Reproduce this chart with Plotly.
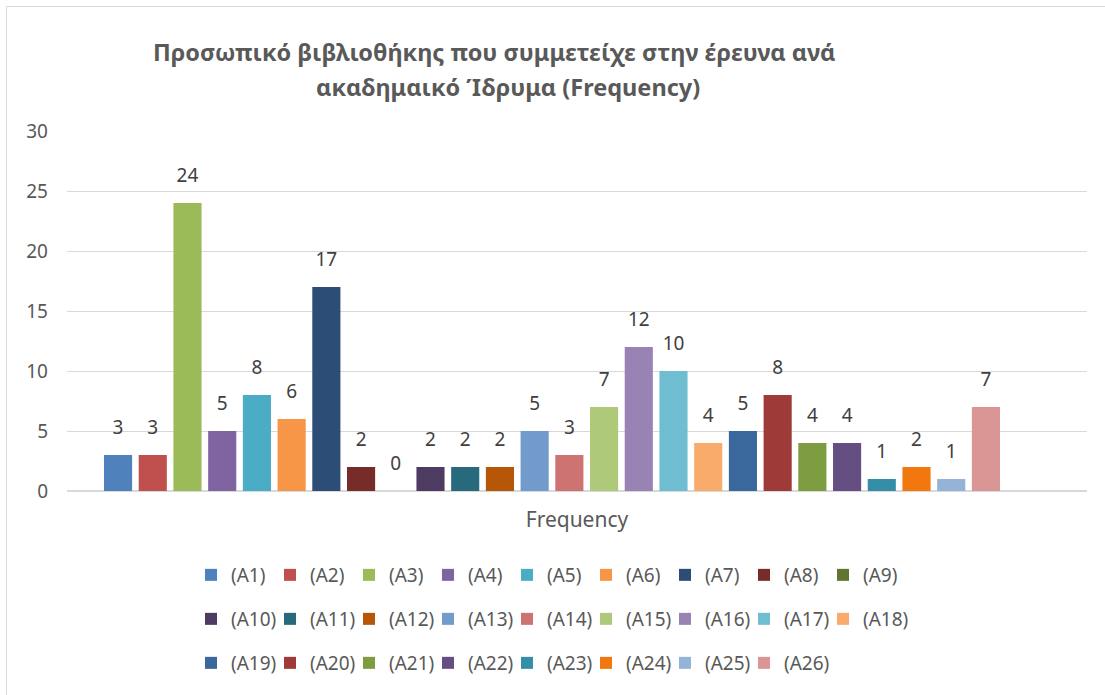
import plotly.graph_objects as go

categories = ["Frequency"]
series_names = [f"(A{i})" for i in range(1, 27)]
values = [3, 3, 24, 5, 8, 6, 17, 2, 0, 2, 2, 2, 5, 3, 7, 12, 10, 4, 5, 8, 4, 4, 1, 2, 1, 7]
colors = ["#4F81BD", "#C0504D", "#9BBB59", "#8064A2", "#4BACC6", "#F79646",
          "#2C4D75", "#772C2A", "#5F7530", "#4D3B62", "#276A7C", "#B65708",
          "#729ACA", "#CD7371", "#AFC97A", "#9983B5", "#6FBDD1", "#F9AB6B",
          "#3A679C", "#9E3B38", "#7E9C40", "#654E82", "#358EA7", "#F3770F",
          "#95B3D7", "#D99694"]
y_ticks = [0, 5, 10, 15, 20, 25, 30]
title_lines = ["Προσωπικό βιβλιοθήκης που συμμετείχε στην έρευνα ανά",
               "ακαδημαικό Ίδρυμα (Frequency)"]

FONT = "Noto Sans"
W, H = 1105, 695
L, R = 67, 1087
T, B = 131, 491


def px_x(p):
    return (p - L) / (R - L)


def px_y(p):
    return (B - p) / (B - T)


legend_ids = ["legend", "legend2", "legend3"]

fig = go.Figure()
for i, (name, v, c) in enumerate(zip(series_names, values, colors)):
    leg = legend_ids[0] if i < 9 else (legend_ids[1] if i < 18 else legend_ids[2])
    fig.add_trace(go.Bar(
        x=categories, y=[v], name=name, marker_color=c, marker_line_width=0,
        offsetgroup=str(i), legend=leg, hoverinfo="name+y",
    ))
for i, (name, v) in enumerate(zip(series_names, values)):
    fig.add_trace(go.Scatter(
        x=categories, y=[v], text=[str(v)], mode="markers+text",
        textposition="top center", offsetgroup=str(i),
        marker=dict(size=24, opacity=0), showlegend=False, cliponaxis=False,
        textfont=dict(family=FONT, size=19, color="#404040"), hoverinfo="skip",
    ))
# blank spacer entries so the last legend label in each row is not clipped
for leg in legend_ids:
    fig.add_trace(go.Scatter(
        x=[None], y=[None], name=" ", mode="markers", visible="legendonly",
        marker=dict(color="rgba(0,0,0,0)"), legend=leg, showlegend=True,
    ))

bargap = 0.1
groupgap = 0.19
slot_px = 896 / (26 - groupgap)
ppu = 26 * slot_px / (1 - bargap)
a = -(552 - L) / ppu
b = a + (R - L) / ppu

leg_common = dict(orientation="h", xanchor="left", yanchor="middle",
                  font=dict(family=FONT, size=19, color="#595959"),
                  bgcolor="rgba(0,0,0,0)", entrywidth=34, itemwidth=30,
                  traceorder="normal", itemclick=False, itemdoubleclick=False)

fig.update_layout(
    width=W, height=H,
    margin=dict(l=L, r=W - R, t=T, b=H - B, pad=0),
    paper_bgcolor="white", plot_bgcolor="white",
    barmode="group", bargap=bargap, bargroupgap=groupgap,
    scattermode="group", scattergap=bargap,
    font=dict(family=FONT, color="#595959"),
    xaxis=dict(range=[a, b], showticklabels=False, showgrid=False,
               showline=False, zeroline=False, fixedrange=True,
               title=dict(text="Frequency", standoff=21,
                          font=dict(family=FONT, size=21, color="#595959"))),
    yaxis=dict(range=[0, 30], tickvals=y_ticks, showgrid=True,
               gridcolor="#D9D9D9", gridwidth=1.3, zeroline=True,
               zerolinecolor="#D9D9D9", zerolinewidth=2, fixedrange=True,
               tickfont=dict(family=FONT, size=19, color="#595959"),
               ticks="", ticklabelstandoff=18),
    legend=dict(x=px_x(191), y=px_y(575), **leg_common),
    legend2=dict(x=px_x(191), y=px_y(619), **leg_common),
    legend3=dict(x=px_x(191), y=px_y(663), **leg_common),
    showlegend=True,
)

fig.add_annotation(text="<b>" + title_lines[0] + "</b>", xref="paper", yref="paper",
                   x=px_x(494), y=px_y(52), xanchor="center", yanchor="middle",
                   showarrow=False,
                   font=dict(family=FONT, size=23.5, color="#595959"))
fig.add_annotation(text="<b>" + title_lines[1] + "</b>", xref="paper", yref="paper",
                   x=px_x(508), y=px_y(87), xanchor="center", yanchor="middle",
                   showarrow=False,
                   font=dict(family=FONT, size=23.5, color="#595959"))

fig.add_shape(type="rect", xref="paper", yref="paper",
              x0=px_x(6.5), y0=px_y(700), x1=px_x(1110), y1=px_y(6.5),
              line=dict(color="#D9D9D9", width=1), fillcolor="rgba(0,0,0,0)",
              layer="below")

fig.write_html("out.html", config={"displayModeBar": False},
               post_script="document.body.style.margin='0px';")
